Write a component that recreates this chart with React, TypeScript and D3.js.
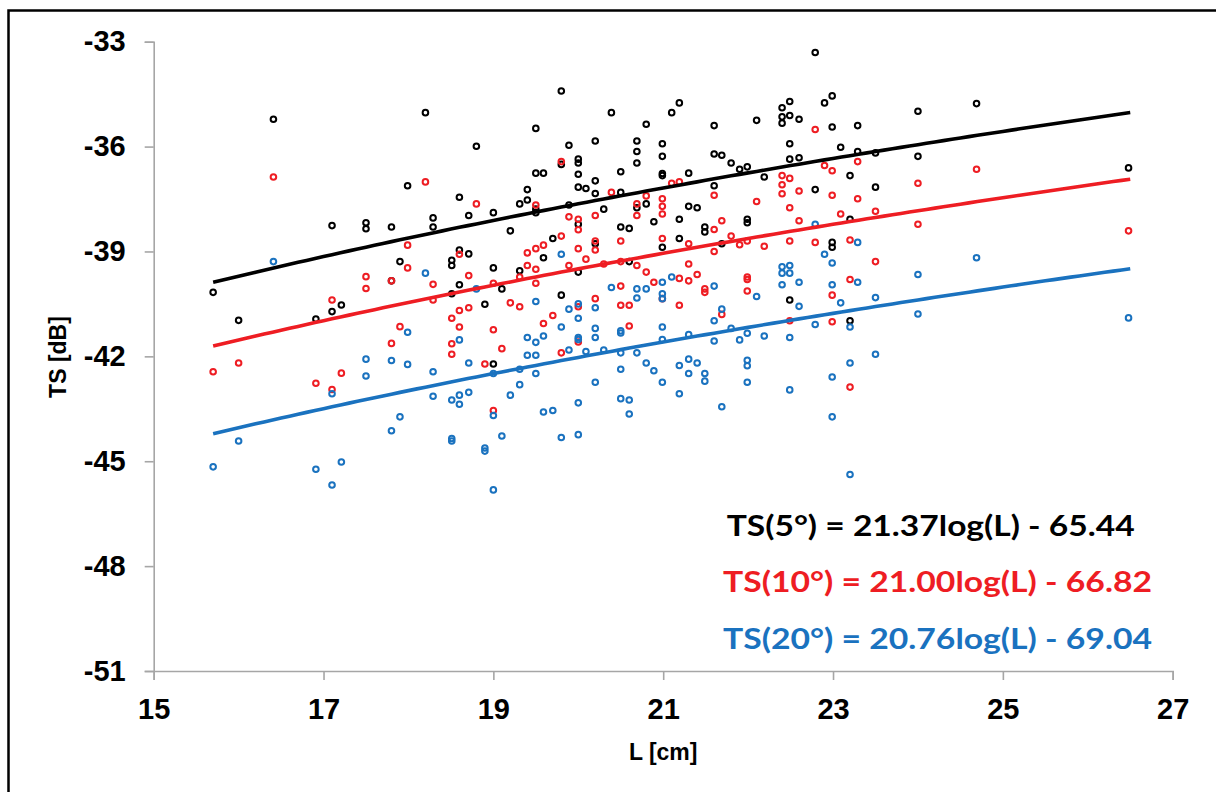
import React, { useEffect, useRef } from 'react';
import * as d3 from 'd3';

// [L (cm), TS (dB)]
const ts5: [number, number][] = [
  [15.7, -40.17], [16.0, -40.97], [16.41, -35.22], [16.91, -40.93], [17.1, -38.26], [17.1, -40.72],
  [17.21, -40.53], [17.5, -38.18], [17.5, -38.35], [17.8, -38.3], [17.8, -39.84], [17.9, -39.29],
  [17.99, -37.12], [18.2, -35.03], [18.29, -38.04], [18.29, -38.3], [18.51, -39.25], [18.51, -39.4],
  [18.51, -40.21], [18.6, -37.45], [18.6, -38.96], [18.6, -39.95], [18.71, -37.97], [18.71, -39.07],
  [18.8, -35.99], [18.9, -40.51], [19.0, -37.89], [19.0, -39.47], [19.0, -42.22], [19.1, -40.07],
  [19.2, -38.41], [19.31, -37.64], [19.31, -39.55], [19.4, -37.23], [19.4, -37.53], [19.5, -35.48],
  [19.5, -36.76], [19.5, -37.79], [19.5, -37.89], [19.59, -36.76], [19.59, -39.18], [19.7, -38.63],
  [19.8, -34.41], [19.8, -36.51], [19.8, -40.25], [19.89, -35.96], [19.89, -37.67], [20.0, -36.36],
  [20.0, -36.47], [20.0, -36.79], [20.0, -37.16], [20.0, -38.22], [20.0, -39.59], [20.09, -37.2],
  [20.2, -35.84], [20.2, -36.98], [20.2, -37.34], [20.2, -38.78], [20.3, -37.79], [20.39, -35.03],
  [20.5, -36.72], [20.5, -37.31], [20.5, -38.3], [20.6, -38.34], [20.6, -39.29], [20.69, -35.84],
  [20.69, -36.14], [20.69, -36.47], [20.69, -37.75], [20.8, -35.36], [20.8, -37.64], [20.89, -38.15],
  [20.99, -35.92], [20.99, -36.28], [20.99, -36.77], [20.99, -36.83], [20.99, -38.88], [21.1, -35.03],
  [21.19, -34.75], [21.19, -38.08], [21.19, -38.63], [21.3, -36.76], [21.3, -37.71], [21.4, -37.75],
  [21.49, -38.3], [21.49, -38.44], [21.6, -35.4], [21.6, -36.21], [21.6, -37.12], [21.69, -36.25],
  [21.69, -38.78], [21.8, -36.47], [21.9, -36.65], [21.99, -36.58], [21.99, -38.08], [21.99, -38.18],
  [22.1, -35.25], [22.19, -36.87], [22.4, -34.89], [22.4, -35.15], [22.4, -35.33], [22.49, -34.71],
  [22.49, -35.11], [22.49, -35.92], [22.49, -36.36], [22.49, -40.39], [22.6, -35.22], [22.6, -36.32],
  [22.79, -33.31], [22.79, -37.23], [22.9, -34.75], [22.99, -34.55], [22.99, -35.44], [22.99, -38.74],
  [22.99, -38.88], [23.09, -36.02], [23.2, -36.83], [23.2, -38.08], [23.2, -40.98], [23.29, -35.4],
  [23.29, -36.14], [23.5, -36.18], [23.5, -37.16], [24.0, -34.99], [24.0, -36.28], [24.69, -34.77],
  [26.48, -36.61],
];

const ts10: [number, number][] = [
  [15.7, -42.44], [16.0, -42.19], [16.41, -36.87], [16.91, -42.77], [17.1, -40.39], [17.1, -42.95],
  [17.21, -42.48], [17.5, -39.72], [17.5, -40.06], [17.8, -39.84], [17.8, -41.63], [17.9, -41.15],
  [17.99, -38.82], [17.99, -39.47], [18.2, -37.01], [18.29, -39.94], [18.29, -40.39], [18.51, -40.91],
  [18.51, -41.64], [18.51, -41.94], [18.6, -39.08], [18.6, -40.69], [18.6, -41.16], [18.71, -39.69],
  [18.71, -40.61], [18.8, -37.64], [18.9, -42.22], [19.0, -39.91], [19.0, -41.24], [19.0, -43.55],
  [19.1, -41.78], [19.2, -40.47], [19.31, -39.73], [19.31, -40.58], [19.4, -39.04], [19.4, -39.4],
  [19.5, -37.67], [19.5, -38.92], [19.5, -39.51], [19.5, -39.91], [19.59, -38.82], [19.59, -41.06],
  [19.7, -40.83], [19.8, -36.43], [19.8, -38.56], [19.8, -41.9], [19.89, -38.01], [19.89, -39.4],
  [20.0, -38.08], [20.0, -38.38], [20.0, -38.92], [20.0, -40.58], [20.0, -41.59], [20.09, -39.22],
  [20.2, -37.97], [20.2, -38.7], [20.2, -38.96], [20.2, -40.35], [20.3, -39.36], [20.39, -37.31],
  [20.5, -38.7], [20.5, -39.29], [20.5, -39.99], [20.5, -40.54], [20.6, -40.54], [20.6, -41.13],
  [20.69, -37.64], [20.69, -37.97], [20.69, -39.4], [20.8, -37.41], [20.8, -39.59], [20.89, -39.88],
  [20.99, -37.49], [20.99, -37.71], [20.99, -37.93], [20.99, -38.63], [20.99, -40.35], [21.1, -37.05],
  [21.19, -37.01], [21.19, -39.77], [21.19, -40.54], [21.3, -38.78], [21.3, -39.36], [21.3, -39.84],
  [21.4, -39.66], [21.49, -40.07], [21.49, -40.17], [21.6, -37.39], [21.6, -38.37], [21.6, -39.0],
  [21.69, -38.12], [21.69, -40.8], [21.8, -38.56], [21.9, -38.81], [21.99, -38.7], [21.99, -39.73],
  [21.99, -39.8], [21.99, -40.13], [22.1, -37.57], [22.19, -38.85], [22.4, -36.83], [22.4, -37.09],
  [22.4, -37.35], [22.49, -36.91], [22.49, -37.75], [22.49, -38.7], [22.49, -40.98], [22.6, -37.27],
  [22.6, -38.12], [22.79, -35.51], [22.79, -38.74], [22.9, -36.54], [22.99, -36.69], [22.99, -37.39],
  [22.99, -40.25], [22.99, -41.01], [23.09, -37.93], [23.2, -38.67], [23.2, -39.8], [23.2, -42.88],
  [23.29, -36.43], [23.29, -37.49], [23.5, -37.85], [23.5, -39.29], [24.0, -37.05], [24.0, -38.22],
  [24.69, -36.65], [26.48, -38.41],
];

const ts20: [number, number][] = [
  [15.7, -45.16], [16.0, -44.42], [16.41, -39.29], [16.91, -45.23], [17.1, -43.07], [17.1, -45.68],
  [17.21, -45.02], [17.5, -42.08], [17.5, -42.56], [17.8, -42.12], [17.8, -44.13], [17.9, -43.73],
  [17.99, -41.31], [17.99, -42.23], [18.2, -39.62], [18.29, -42.44], [18.29, -43.14], [18.51, -43.25],
  [18.51, -44.35], [18.51, -44.42], [18.6, -41.53], [18.6, -43.11], [18.6, -43.37], [18.71, -42.19],
  [18.71, -43.03], [18.8, -40.07], [18.9, -44.62], [18.9, -44.71], [19.0, -42.49], [19.0, -43.69],
  [19.0, -45.82], [19.1, -44.28], [19.2, -43.11], [19.31, -42.37], [19.31, -42.81], [19.4, -41.46],
  [19.4, -41.97], [19.5, -40.43], [19.5, -41.6], [19.5, -41.97], [19.5, -42.49], [19.59, -41.42],
  [19.59, -43.59], [19.7, -43.55], [19.8, -39.08], [19.8, -41.16], [19.8, -44.32], [19.89, -40.65],
  [19.89, -41.82], [20.0, -40.5], [20.0, -40.91], [20.0, -41.46], [20.0, -41.52], [20.0, -43.33],
  [20.0, -44.24], [20.09, -41.86], [20.2, -40.61], [20.2, -41.2], [20.2, -41.46], [20.2, -42.74],
  [20.3, -41.82], [20.39, -40.03], [20.5, -41.27], [20.5, -41.33], [20.5, -41.9], [20.5, -42.37],
  [20.5, -43.21], [20.6, -43.25], [20.6, -43.65], [20.69, -40.07], [20.69, -40.33], [20.69, -41.9],
  [20.8, -40.07], [20.8, -42.19], [20.89, -42.41], [20.99, -39.88], [20.99, -40.21], [20.99, -40.35],
  [20.99, -41.16], [20.99, -41.52], [20.99, -42.74], [21.1, -39.73], [21.19, -42.26], [21.19, -43.07],
  [21.3, -41.38], [21.3, -42.08], [21.3, -42.49], [21.4, -42.19], [21.49, -42.49], [21.49, -42.71],
  [21.6, -39.99], [21.6, -40.98], [21.6, -41.56], [21.69, -40.65], [21.69, -43.44], [21.8, -41.2],
  [21.9, -41.53], [21.99, -41.34], [21.99, -42.11], [21.99, -42.27], [21.99, -42.74], [22.1, -40.29],
  [22.19, -41.42], [22.4, -39.44], [22.4, -39.62], [22.4, -39.95], [22.49, -39.4], [22.49, -39.62],
  [22.49, -41.46], [22.49, -42.96], [22.6, -39.88], [22.6, -40.57], [22.79, -38.22], [22.79, -41.09],
  [22.9, -39.08], [22.99, -39.33], [22.99, -39.95], [22.99, -42.59], [22.99, -43.73], [23.09, -40.47],
  [23.2, -41.16], [23.2, -42.19], [23.2, -45.38], [23.29, -38.74], [23.29, -39.88], [23.5, -40.32],
  [23.5, -41.94], [24.0, -39.66], [24.0, -40.79], [24.69, -39.18], [26.48, -40.9],
];

// fitted trend lines TS = a*log(L) + b, as printed on the chart
const fitLabels = ['TS(5°) = 21.37log(L) - 65.44', 'TS(10°) = 21.00log(L) - 66.82', 'TS(20°) = 20.76log(L) - 69.04'];
const fitSlopes = [21.37, 21.0, 20.76];
const fitIntercepts = [-65.44, -66.82, -69.04];
const fitRange = [15.7, 26.5];

const xTicks = [15, 17, 19, 21, 23, 25, 27];
const yTicks = [-33, -36, -39, -42, -45, -48, -51];

const colors = ['#000000', '#EE1D23', '#1A72BF'];

export default function App() {
  const ref = useRef<SVGSVGElement>(null);

  useEffect(() => {
    const svg = d3.select(ref.current);
    svg.selectAll('*').remove();

    const x = d3.scaleLinear().domain([15, 27]).range([153.7, 1172.7]);
    const y = d3.scaleLinear().domain([-51, -33]).range([671, 41.7]);

    // outer frame
    svg.append('rect')
      .attr('x', 8.5).attr('y', 10.5)
      .attr('width', 1240).attr('height', 820)
      .attr('fill', 'none').attr('stroke', '#000').attr('stroke-width', 2.5);

    const axisFont = 'Liberation Sans, Arial, sans-serif';

    const yAxis = svg.append('g')
      .attr('transform', `translate(${x(15)},0)`)
      .call(d3.axisLeft(y).tickValues(yTicks).tickSize(9).tickPadding(19).tickFormat(d => String(d)));
    const xAxis = svg.append('g')
      .attr('transform', `translate(0,${y(-51)})`)
      .call(d3.axisBottom(x).tickValues(xTicks).tickSize(9).tickPadding(18).tickFormat(d => String(d)));

    [yAxis, xAxis].forEach(ax => {
      ax.select('.domain').attr('stroke', '#A6A6A6').attr('stroke-width', 1.6);
      ax.selectAll('.tick line').attr('stroke', '#A6A6A6').attr('stroke-width', 1.6);
      ax.selectAll('.tick text')
        .attr('fill', '#000')
        .style('font-family', axisFont)
        .style('font-size', '29px')
        .style('font-weight', 'bold');
    });

    svg.append('text')
      .attr('transform', 'translate(58,357) rotate(-90)')
      .attr('text-anchor', 'middle')
      .attr('dy', '0.35em')
      .style('font-family', axisFont)
      .style('font-size', '23px')
      .style('font-weight', 'bold')
      .text('TS [dB]');

    svg.append('text')
      .attr('x', (x(15) + x(27)) / 2)
      .attr('y', 760)
      .attr('text-anchor', 'middle')
      .style('font-family', axisFont)
      .style('font-size', '23px')
      .style('font-weight', 'bold')
      .text('L [cm]');

    // scatter
    [ts5, ts10, ts20].forEach((series, i) => {
      svg.append('g')
        .selectAll('circle')
        .data(series)
        .enter()
        .append('circle')
        .attr('cx', d => x(d[0]))
        .attr('cy', d => y(d[1]))
        .attr('r', 2.8)
        .attr('fill', 'none')
        .attr('stroke', colors[i])
        .attr('stroke-width', 2);
    });

    // trend lines
    const line = d3.line<number[]>().x(d => x(d[0])).y(d => y(d[1]));
    fitSlopes.forEach((a, i) => {
      const pts = d3.range(fitRange[0], fitRange[1] + 0.001, 0.1)
        .map(L => [L, a * Math.log10(L) + fitIntercepts[i]]);
      svg.append('path')
        .attr('d', line(pts))
        .attr('fill', 'none')
        .attr('stroke', colors[i])
        .attr('stroke-width', 3.6);
    });

    // equations
    const eqPos = [[726.7, 536, 408], [723, 592, 429], [723, 649, 429]];
    fitLabels.forEach((t, i) => {
      svg.append('text')
        .attr('x', eqPos[i][0])
        .attr('y', eqPos[i][1])
        .attr('textLength', eqPos[i][2])
        .attr('lengthAdjust', 'spacingAndGlyphs')
        .attr('fill', colors[i])
        .style('font-family', 'Lato, Open Sans, sans-serif')
        .style('font-size', '29px')
        .style('font-weight', 'bold')
        .text(t);
    });
  }, []);

  return (
    <svg
      ref={ref}
      width={1216}
      height={792}
      style={{ position: 'absolute', left: 0, top: 0, background: '#fff' }}
    />
  );
}
